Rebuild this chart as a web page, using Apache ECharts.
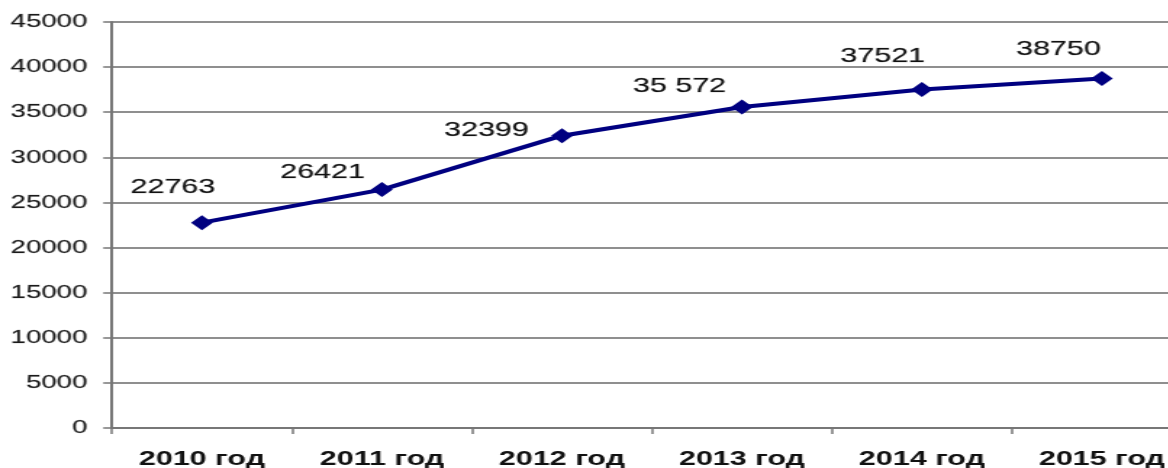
<!DOCTYPE html>
<html>
<head>
<meta charset="utf-8">
<script src="https://cdn.jsdelivr.net/npm/echarts@6/dist/echarts.min.js"></script>
<style>
html,body{margin:0;padding:0;background:#fff;overflow:hidden;width:1168px;height:468px;}
#c{width:805.5px;height:468px;transform:scaleX(1.45);transform-origin:0 0;}
</style>
</head>
<body>
<div id="c"></div>
<script>
const categories = ['2010 год','2011 год','2012 год','2013 год','2014 год','2015 год'];
const values = [22763, 26421, 32399, 35572, 37521, 38750];
const valueLabels = ['22763','26421','32399','35 572','37521','38750'];
const labelOffsets = [[-20,-35],[-41,-17],[-52,-5],[-43,-21],[-27,-33],[-30,-29]];

const chart = echarts.init(document.getElementById('c'));
chart.setOption({
  animation: false,
  backgroundColor: '#fff',
  grid: {left: 77.2, top: 22, width: 744.8, height: 406, containLabel: false, outerBoundsMode: 'none'},
  xAxis: {
    type: 'category',
    data: categories,
    boundaryGap: true,
    axisLine: {show: true, lineStyle: {color: '#777', width: 2}},
    axisTick: {show: true, length: 6, lineStyle: {color: '#777', width: 1.5}},
    axisLabel: {color: '#111', fontFamily: 'Liberation Sans, Arial', fontWeight: 'bold', fontSize: 21, margin: 21},
    splitLine: {show: false}
  },
  yAxis: {
    type: 'value',
    min: 0, max: 45000, interval: 5000,
    axisLine: {show: true, lineStyle: {color: '#777', width: 2}},
    axisTick: {show: true, length: 6, lineStyle: {color: '#777', width: 1.5}},
    axisLabel: {color: '#1a1a1a', fontFamily: 'Liberation Sans, Arial', fontSize: 19, margin: 17, formatter: v => String(v), textBorderColor: 'rgba(26,26,26,0.35)', textBorderWidth: 0.5},
    splitLine: {show: true, lineStyle: {color: '#8f8f8f', width: 2}}
  },
  series: [{
    type: 'line',
    data: values.map((v, i) => ({
      value: v,
      label: {offset: labelOffsets[i], formatter: valueLabels[i]}
    })),
    symbol: 'diamond',
    symbolSize: 15,
    lineStyle: {color: '#000080', width: 4},
    itemStyle: {color: '#000080'},
    label: {show: true, position: 'inside', color: '#111', fontFamily: 'Liberation Sans, Arial', fontSize: 21, textBorderColor: 'rgba(17,17,17,0.35)', textBorderWidth: 0.6},
    z: 5
  }]
});
</script>
</body>
</html>
